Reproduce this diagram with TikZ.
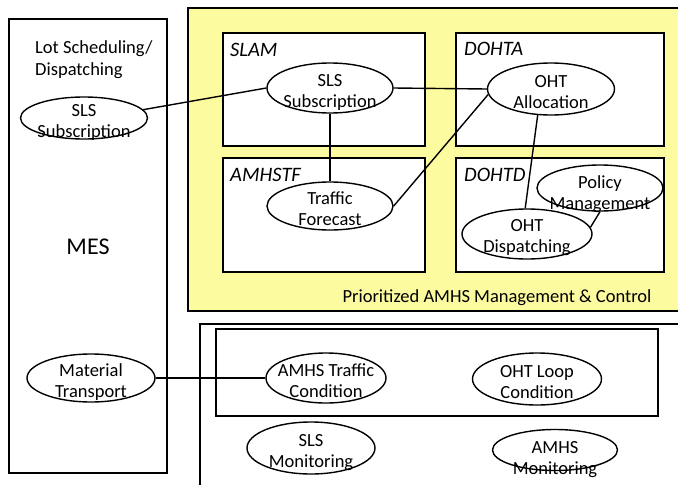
\documentclass[tikz,border=0pt]{standalone}
\usepackage{fontspec}
\setmainfont{Carlito}
\usetikzlibrary{shapes.geometric}
\definecolor{amhsyellow}{RGB}{253,251,160}
% two centred lines whose first baseline sits at the node centre (raised by #1);
% the text takes no room, so the ellipse keeps its given size
\newcommand{\ovtext}[3][2pt]{\raisebox{#1}[0pt][0pt]{\makebox[0pt]{%
  \begin{tabular}[t]{@{}c@{}}#2\\#3\end{tabular}}}}
\tikzset{
  frame/.style={draw=black, line width=1.6pt},
  oval/.style={ellipse, draw=black, line width=1.4pt, fill=white, inner sep=0pt,
    font=\fontsize{18.5}{21}\selectfont},
  link/.style={draw=black, line width=1.4pt},
  tag/.style={font=\fontsize{20.5}{24}\selectfont\itshape, anchor=west, inner sep=0pt},
  plain/.style={font=\fontsize{18.5}{22}\selectfont, inner sep=0pt, align=left}
}
\begin{document}
\begin{tikzpicture}[x=1pt, y=-1pt]
  \clip (0,0) rectangle (678,485);
  \fill[white] (0,0) rectangle (678,485);

  % MES column
  \draw[frame] (9,19) rectangle (167,473);
  \node[plain, anchor=north west] (lot) at (35,40) {Lot Scheduling/\\Dispatching};
  \node[font=\fontsize{24}{28}\selectfont] (mes) at (88,247) {MES};
  \node[oval, minimum width=127pt, minimum height=42pt] (msls) at (84,118) {\ovtext{SLS}{Subscription}};
  \node[oval, minimum width=128pt, minimum height=48pt] (mt) at (91,378) {\ovtext{Material}{Transport}};

  % prioritized AMHS management & control
  \draw[frame, fill=amhsyellow] (188,8) rectangle (700,311);
  \node[font=\fontsize{18.5}{22}\selectfont] (prio) at (497,298) {Prioritized AMHS Management \& Control};

  \draw[frame, fill=white] (223,33) rectangle (425,146);
  \node[tag] (slam) at (230,50) {SLAM};
  \draw[frame, fill=white] (223,158) rectangle (425,272);
  \node[tag] (amhstf) at (230,175) {AMHSTF};
  \draw[frame, fill=white] (456,33) rectangle (664,146);
  \node[tag] (dohta) at (464,49) {DOHTA};
  \draw[frame, fill=white] (456,158) rectangle (664,272);
  \node[tag] (dohtd) at (464,175) {DOHTD};

  \node[oval, minimum width=126pt, minimum height=50pt] (slsb) at (330,88) {\ovtext{SLS}{Subscription}};
  \node[oval, minimum width=126pt, minimum height=48pt] (tf) at (330,206) {\ovtext{Traffic}{Forecast}};
  \node[oval, minimum width=127pt, minimum height=52pt] (alloc) at (551,89) {\ovtext{OHT}{Allocation}};
  \node[oval, minimum width=126pt, minimum height=46pt] (pol) at (600,188) {\ovtext[0pt]{Policy}{Management}};
  \node[oval, minimum width=130pt, minimum height=50pt] (disp) at (527,234) {\ovtext[3pt]{OHT}{Dispatching}};

  % monitoring area
  \draw[frame] (200,500) -- (200,324) -- (700,324);
  \draw[frame] (216,329) rectangle (658,416);
  \node[oval, minimum width=120pt, minimum height=50pt] (tc) at (326,378) {\ovtext{AMHS Traffic}{Condition}};
  \node[oval, minimum width=129pt, minimum height=52pt] (loop) at (537,379) {\ovtext{OHT Loop}{Condition}};
  \node[oval, minimum width=128pt, minimum height=52pt] (slsm) at (311,448) {\ovtext{SLS}{Monitoring}};
  \node[oval, minimum width=125pt, minimum height=41pt] (amhsm) at (555,450) {\ovtext[-3pt]{AMHS}{Monitoring}};

  % connectors
  \draw[link] (msls.8) -- (slsb.west);
  \draw[link] (slsb.east) -- (alloc.west);
  \draw[link] (slsb.south) -- (tf.north);
  \draw[link] (tf.east) -- (alloc.185);
  \draw[link] (alloc.243) -- (disp.94);
  \draw[link] (pol.south) -- (disp.6);
  \draw[link] (mt.east) -- (tc.west);
\end{tikzpicture}
\end{document}
